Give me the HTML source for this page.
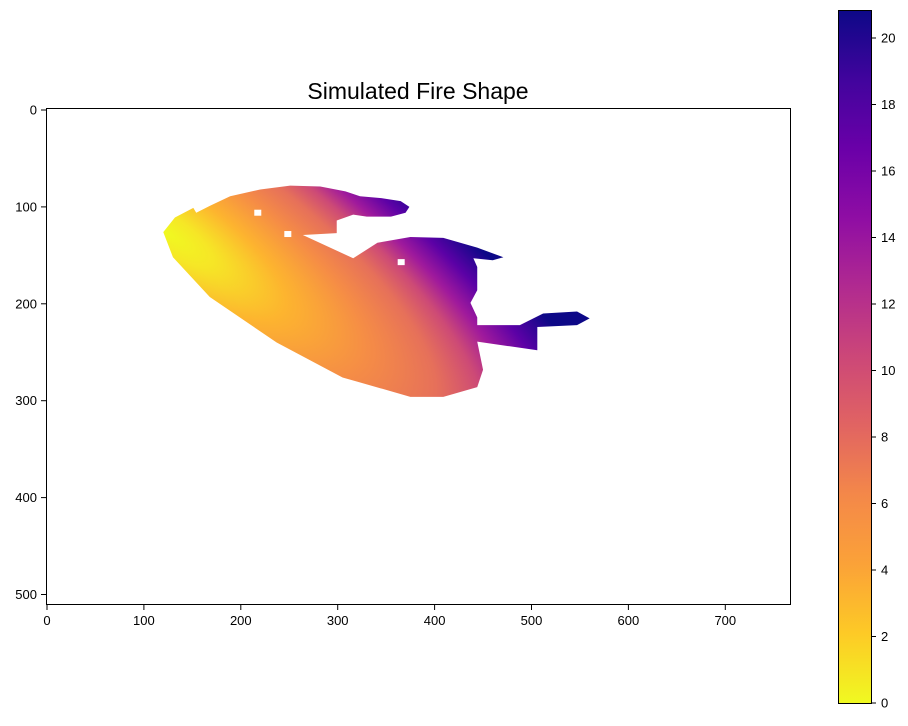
<!DOCTYPE html>
<html><head><meta charset="utf-8"><style>
body{margin:0;background:#fff;font-family:"Liberation Sans",sans-serif;}
svg text{font-family:"Liberation Sans",sans-serif;}
</style></head><body>
<svg id="chart" width="908" height="721" xmlns="http://www.w3.org/2000/svg">
<defs>
<radialGradient id="fireGrad" gradientUnits="userSpaceOnUse" cx="0" cy="0" r="1" gradientTransform="translate(165,232) rotate(34) scale(570,185)">
<stop offset="0" stop-color="#f0f921"/>
<stop offset="0.1" stop-color="#f6e626"/>
<stop offset="0.25" stop-color="#fdb42f"/>
<stop offset="0.42" stop-color="#f58c46"/>
<stop offset="0.56" stop-color="#e6705a"/>
<stop offset="0.66" stop-color="#cd4a76"/>
<stop offset="0.75" stop-color="#a01a9c"/>
<stop offset="0.86" stop-color="#5c01a6"/>
<stop offset="1" stop-color="#0d0887"/>
</radialGradient>
<linearGradient id="cbGrad" x1="0" y1="1" x2="0" y2="0">
<stop offset="0" stop-color="#f0f921"/>
<stop offset="0.1" stop-color="#fdca26"/>
<stop offset="0.2" stop-color="#fba238"/>
<stop offset="0.3" stop-color="#f48849"/>
<stop offset="0.4" stop-color="#e16462"/>
<stop offset="0.5" stop-color="#cc4778"/>
<stop offset="0.6" stop-color="#b12a90"/>
<stop offset="0.7" stop-color="#8f0da4"/>
<stop offset="0.8" stop-color="#6a00a8"/>
<stop offset="0.9" stop-color="#41049d"/>
<stop offset="1" stop-color="#0d0887"/>
</linearGradient>
</defs>
<text x="418" y="99" text-anchor="middle" font-size="23" fill="#000">Simulated Fire Shape</text>
<g id="plot"></g>
<rect x="46.5" y="108.5" width="744" height="496" fill="none" stroke="#000" stroke-width="1"/>
<g id="xaxis"></g>
<g id="yaxis"></g>
<rect x="838" y="10" width="33" height="693" fill="url(#cbGrad)"/>
<rect x="838.5" y="10.5" width="33" height="693" fill="none" stroke="#000" stroke-width="1"/>
<g id="cbaxis"></g>
</svg>
<script>
const outlineX=[120,132,151,154,168,189,220,251,282,308,323,345,365,374,370,355,330,316,299,299,264,316,341,375,409,444,471,460,440,444,444,437,444,444,488,512,547,560,547,506,506,444,450,444,409,375,305,237,168,130];
const outlineY=[126,111,101,106,99,89,82,78,79,84,89,91,94,100,106,110,110,108,114,127,129,153,137,131,132,142,152,155,153,162,186,199,214,222,222,210,208,215,222,224,248,239,268,286,296,296,276,240,193,152];
const holeX=[217,248,365,462];
const holeY=[106,128,157,197];
const xTicks=[0,100,200,300,400,500,600,700];
const yTicks=[0,100,200,300,400,500];
const cbTicks=[0,2,4,6,8,10,12,14,16,18,20];
const NS="http://www.w3.org/2000/svg";
function sx(x){return 47+x*0.969;}
function sy(y){return 110+y*0.969;}
function cy(v){return 703-v*33.25;}
const plot=document.getElementById('plot');
const poly=document.createElementNS(NS,'polygon');
poly.setAttribute('points',outlineX.map((x,i)=>sx(x)+','+sy(outlineY[i])).join(' '));
poly.setAttribute('fill','url(#fireGrad)');


plot.appendChild(poly);
holeX.forEach((x,i)=>{
 const r=document.createElementNS(NS,'rect');
 r.setAttribute('x',sx(x)-3);r.setAttribute('y',sy(holeY[i])-3);
 r.setAttribute('width',7);r.setAttribute('height',6);r.setAttribute('fill','#fff');
 
 
 plot.appendChild(r);
});
const xa=document.getElementById('xaxis');
xTicks.forEach(t=>{
 const l=document.createElementNS(NS,'line');
 l.setAttribute('x1',sx(t));l.setAttribute('x2',sx(t));l.setAttribute('y1',605);l.setAttribute('y2',610);l.setAttribute('stroke','#000');
 
 
 xa.appendChild(l);
 const tx=document.createElementNS(NS,'text');
 tx.setAttribute('x',sx(t));tx.setAttribute('y',625);tx.setAttribute('text-anchor','middle');tx.setAttribute('font-size','13');
 tx.textContent=t;
 
 
 xa.appendChild(tx);
});
const ya=document.getElementById('yaxis');
yTicks.forEach(t=>{
 const l=document.createElementNS(NS,'line');
 l.setAttribute('x1',41);l.setAttribute('x2',46.5);l.setAttribute('y1',sy(t));l.setAttribute('y2',sy(t));l.setAttribute('stroke','#000');
 
 
 ya.appendChild(l);
 const tx=document.createElementNS(NS,'text');
 tx.setAttribute('x',37);tx.setAttribute('y',sy(t)+4.5);tx.setAttribute('text-anchor','end');tx.setAttribute('font-size','13');
 tx.textContent=t;
 
 
 ya.appendChild(tx);
});
const ca=document.getElementById('cbaxis');
cbTicks.forEach(t=>{
 const l=document.createElementNS(NS,'line');
 l.setAttribute('x1',871.5);l.setAttribute('x2',876);l.setAttribute('y1',cy(t));l.setAttribute('y2',cy(t));l.setAttribute('stroke','#000');
 
 
 ca.appendChild(l);
 const tx=document.createElementNS(NS,'text');
 tx.setAttribute('x',881);tx.setAttribute('y',cy(t)+4.5);tx.setAttribute('font-size','13');
 tx.textContent=t;
 
 
 ca.appendChild(tx);
});
</script>
</body></html>
